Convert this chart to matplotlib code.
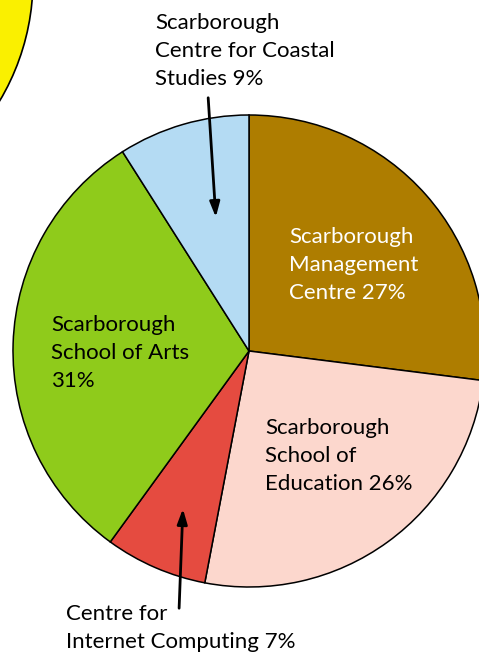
import matplotlib
matplotlib.use("Agg")
import matplotlib.pyplot as plt
from matplotlib.patches import Circle

plt.rcParams['font.family'] = ['Lato', 'DejaVu Sans']

labels = ["Scarborough\nManagement\nCentre 27%",
          "Scarborough\nSchool of\nEducation 26%",
          "Centre for\nInternet Computing 7%",
          "Scarborough\nSchool of Arts\n31%",
          "Scarborough\nCentre for Coastal\nStudies 9%"]
values = [27, 26, 7, 31, 9]
colors = ["#AE7D00", "#FCD7CD", "#E54B40", "#8FCB1B", "#B4DBF3"]
text_colors = ["white", "black", "black", "black", "black"]

W, H = 479, 656
fig = plt.figure(figsize=(W / 100, H / 100), dpi=100)
ax = fig.add_axes([0, 0, 1, 1])

def Y(y):
    return H - y

# partially visible yellow circle top-left
ax.add_patch(Circle((-203, Y(-20)), 236, facecolor="#FAF000", edgecolor="black", lw=1.2, zorder=1))

ax.pie(values, colors=colors, startangle=90, counterclock=False,
       center=(249, Y(351)), radius=236,
       wedgeprops=dict(edgecolor="black", linewidth=1.1), frame=True)
ax.set_xlim(0, W)
ax.set_ylim(0, H)
ax.set_aspect('equal')
ax.axis('off')

# label positions (left x, center y of middle of block)
pos = [(289, 265), (265, 456), (66, 627.5), (51, 353), (155, 51)]
for lab, (x, y), c in zip(labels, pos, text_colors):
    ax.text(x, Y(y), lab, ha='left', va='center', fontsize=16, color=c,
            linespacing=1.5, zorder=5)

# arrows
ax.annotate("", xy=(216, Y(220)), xytext=(208, Y(95)),
            arrowprops=dict(arrowstyle="-|>,head_length=0.9,head_width=0.3", color="black", lw=2), zorder=6)
ax.annotate("", xy=(183, Y(506)), xytext=(179, Y(611)),
            arrowprops=dict(arrowstyle="-|>,head_length=0.9,head_width=0.3", color="black", lw=2), zorder=6)

fig.savefig("out.png", dpi=100)
